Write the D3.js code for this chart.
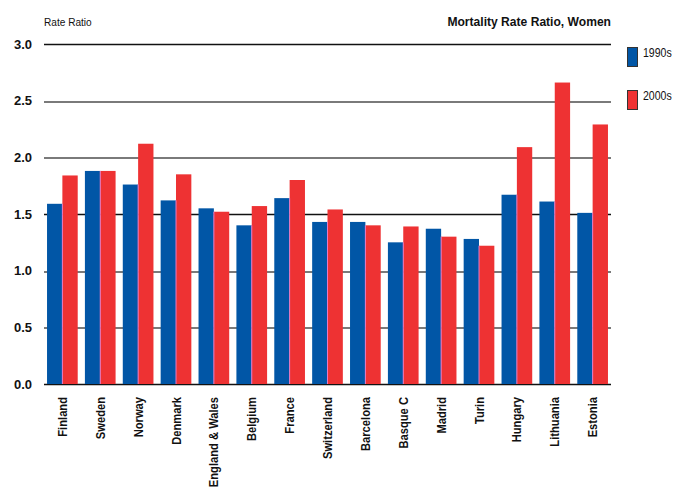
<!DOCTYPE html>
<html>
<head>
<meta charset="utf-8">
<script src="https://cdn.jsdelivr.net/npm/d3@7"></script>
<style>
  html, body { margin: 0; padding: 0; background: #fff; }
  svg { display: block; }
  text { font-family: "Liberation Sans", Arial, sans-serif; }
</style>
</head>
<body>
<svg id="chart" width="675" height="490"></svg>
<script>
const categories = ["Finland","Sweden","Norway","Denmark","England & Wales","Belgium","France","Switzerland","Barcelona","Basque C","Madrid","Turin","Hungary","Lithuania","Estonia"];
const series = ["1990s","2000s"];
const values1990s = [1.59,1.88,1.76,1.62,1.55,1.40,1.64,1.43,1.43,1.25,1.37,1.28,1.67,1.61,1.51];
const values2000s = [1.84,1.88,2.12,1.85,1.52,1.57,1.80,1.54,1.40,1.39,1.30,1.22,2.09,2.66,2.29];
const yTicks = [0,0.5,1.0,1.5,2.0,2.5,3.0];
const darkTicks = [0,1.5,3.0];
const colors = {"1990s":"#0156A6","2000s":"#EE3233"};

const svg = d3.select("#chart");
const mLeft = 44, mRight = 611, mTop = 44, mBottom = 384;

const x = d3.scaleBand().domain(categories).range([mLeft, mRight]).paddingInner(0.19).paddingOuter(0.08);
const xs = d3.scaleBand().domain(series).range([0, x.bandwidth()]).padding(0);
const y = d3.scaleLinear().domain([0, 3]).range([mBottom, mTop]);

// gridlines
svg.append("g").selectAll("line").data(yTicks).join("line")
  .attr("x1", mLeft).attr("x2", mRight)
  .attr("y1", d => darkTicks.includes(d) ? Math.round(y(d)) + 0.5 : Math.round(y(d)) + 1)
  .attr("y2", d => darkTicks.includes(d) ? Math.round(y(d)) + 0.5 : Math.round(y(d)) + 1)
  .attr("stroke", d => darkTicks.includes(d) ? "#111" : "#7a7a7a")
  .attr("stroke-width", d => darkTicks.includes(d) ? 1.3 : 2);

// y axis labels
const yAxis = d3.axisLeft(y).tickValues(yTicks).tickFormat(d3.format(".1f")).tickSize(0).tickPadding(0);
const ya = svg.append("g").attr("transform", `translate(32,0)`).call(yAxis);
ya.select(".domain").remove();
ya.selectAll("text").attr("font-size", 13).attr("font-weight", "bold").attr("fill", "#111")
  .attr("font-family", "'Liberation Sans', Arial, sans-serif");

// bars
const rows = categories.map((c, i) => ({cat: c, vals: [{s: "1990s", v: values1990s[i]}, {s: "2000s", v: values2000s[i]}]}));
const g = svg.append("g").selectAll("g").data(rows).join("g")
  .attr("transform", d => `translate(${x(d.cat)},0)`);
g.selectAll("rect").data(d => d.vals).join("rect")
  .attr("x", d => xs(d.s)).attr("width", xs.bandwidth())
  .attr("y", d => y(d.v)).attr("height", d => y(0) - y(d.v))
  .attr("fill", d => colors[d.s]);
// thin pink seam between bars
g.append("rect")
  .attr("x", xs("2000s") - 0.5).attr("width", 1)
  .attr("y", d => y(Math.min(d.vals[0].v, d.vals[1].v)))
  .attr("height", d => y(0) - y(Math.min(d.vals[0].v, d.vals[1].v)))
  .attr("fill", "#e47ac6");

// x axis labels (condensed look)
const xAxis = d3.axisBottom(x).tickSize(0).tickPadding(0);
const xa = svg.append("g").attr("transform", `translate(0,${mBottom + 13})`).call(xAxis);
xa.select(".domain").remove();
xa.selectAll("text")
  .attr("font-size", 13).attr("font-weight", "bold").attr("fill", "#111")
  .attr("font-family", "'Liberation Sans', Arial, sans-serif")
  .attr("transform", "rotate(-90) scale(0.86,1)")
  .attr("text-anchor", "end")
  .attr("x", 0).attr("y", 0).attr("dy", "0.35em");

// titles
svg.append("text").attr("transform", "translate(44,26) scale(0.92,1)").attr("font-size", 11)
  .attr("fill", "#111").text("Rate Ratio");
svg.append("text").attr("transform", "translate(611,26) scale(0.93,1)").attr("text-anchor", "end").attr("font-size", 13)
  .attr("font-weight", "bold").attr("fill", "#111").text("Mortality Rate Ratio, Women");

// legend
const legend = svg.append("g").selectAll("g").data(series).join("g")
  .attr("transform", (d, i) => `translate(627,${47 + i * 43})`);
legend.append("rect").attr("x", 0.5).attr("y", 0.5).attr("width", 10).attr("height", 19)
  .attr("fill", d => colors[d]).attr("stroke", "#333").attr("stroke-width", 1);
legend.append("text").attr("transform", "translate(16,10) scale(0.88,1)").attr("font-size", 12)
  .attr("fill", "#111").text(d => d);
</script>
</body>
</html>
